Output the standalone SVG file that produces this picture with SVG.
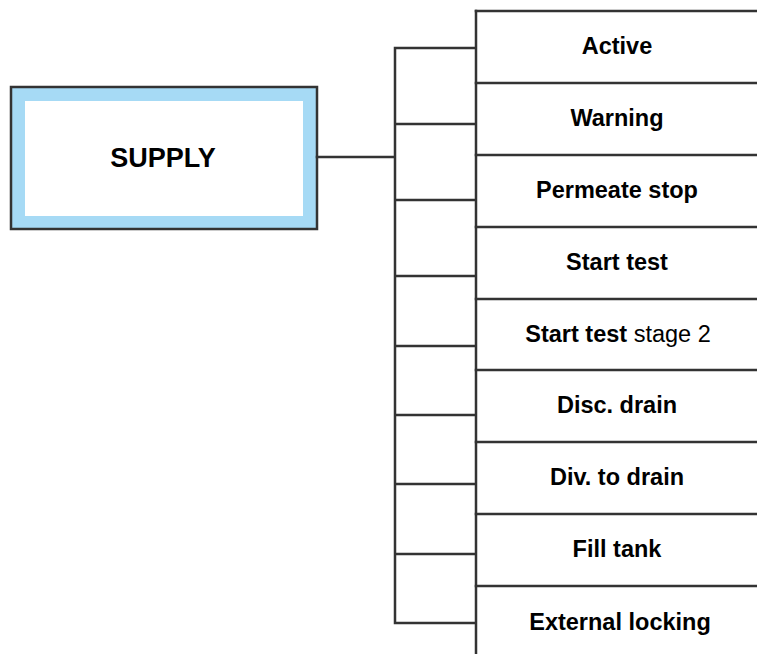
<svg xmlns="http://www.w3.org/2000/svg" width="757" height="654" viewBox="0 0 757 654">
<style>
.ln{stroke:#333;stroke-width:2.5;fill:none;stroke-linecap:square}
.t{font-family:"Liberation Sans",Arial,sans-serif;font-size:23.5px;font-weight:bold;fill:#000;text-anchor:middle}
.n{font-weight:normal}
</style>
<rect width="757" height="654" fill="#fff"/>
<g id="supply">
<rect x="11" y="87" width="306" height="142" fill="#a6daf5" stroke="#333" stroke-width="2.5"/>
<rect x="25" y="101" width="278" height="115" fill="#fff"/>
<text class="t" x="163" y="167" style="font-size:27px">SUPPLY</text>
</g>
<g id="connectors">
<path class="ln" d="M317 157H395M395 48V623M395 48H476M395 124H476M395 200H476M395 276H476M395 346H476M395 415H476M395 484H476M395 554H476M395 623H476M476 11V654"/>
</g>
<g id="rows">
<path class="ln" d="M476 11H757M476 83H757M476 155H757M476 227H757M476 299H757M476 370H757M476 442H757M476 514H757M476 586H757"/>
</g>
<g id="n-active"><text class="t" x="617" y="54">Active</text></g>
<g id="n-warning"><text class="t" x="617" y="126">Warning</text></g>
<g id="n-permeate"><text class="t" x="617" y="198">Permeate stop</text></g>
<g id="n-start"><text class="t" x="617" y="270">Start test</text></g>
<g id="n-start2"><text class="t" x="618" y="342">Start test<tspan class="n"> stage 2</tspan></text></g>
<g id="n-disc"><text class="t" x="617" y="413">Disc. drain</text></g>
<g id="n-div"><text class="t" x="617" y="485">Div. to drain</text></g>
<g id="n-fill"><text class="t" x="617" y="557">Fill tank</text></g>
<g id="n-ext"><text class="t" x="620" y="630">External locking</text></g>
</svg>
